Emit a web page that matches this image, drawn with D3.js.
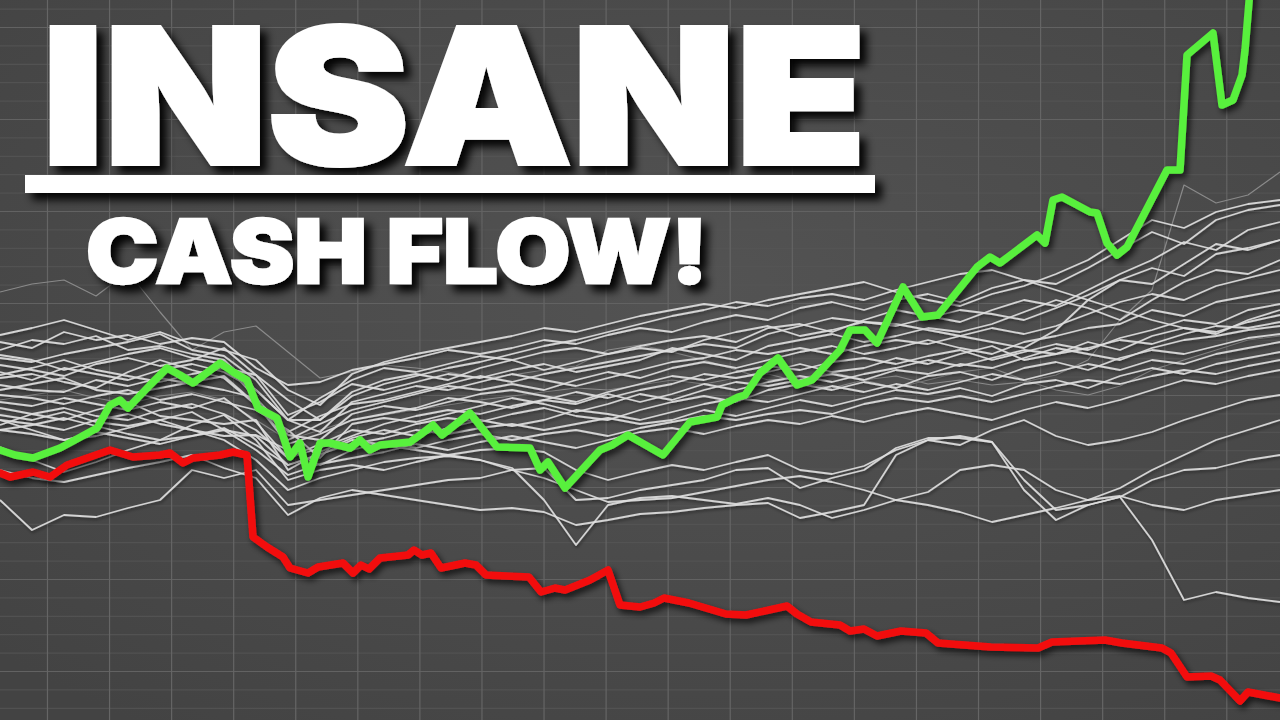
<!DOCTYPE html>
<html>
<head>
<meta charset="utf-8">
<script src="https://cdn.jsdelivr.net/npm/d3@7"></script>
<style>
  html, body { margin: 0; padding: 0; background: #4a4a4a; overflow: hidden; }
  svg { display: block; }
</style>
</head>
<body>
<svg id="chart" width="1280" height="720"></svg>
<script>
// ---------------- DATA ----------------
// Shared x positions (trading-day index, in chart units) for the grey peer lines
const peerDays = [0,32,64,96,128,160,192,224,256,288,320,352,384,416,448,480,512,544,576,608,640,672,704,736,768,800,832,864,896,928,960,992,1024,1056,1088,1120,1152,1184,1216,1248,1280];

// Peer (white) series, value level at each peer day
const peerA = [378,372,388,380,385,376,382,378,352,335,338,350,356,362,370,366,372,380,376,385,392,388,398,405,400,412,418,410,420,426,418,432,440,436,452,470,488,476,500,510,515];
const peerB = [370,380,376,384,370,374,366,360,330,300,322,340,352,348,356,364,360,350,358,366,374,380,384,378,392,396,388,400,410,404,398,410,420,414,430,446,460,478,470,490,498];
const peerC = [362,358,366,372,378,386,370,364,340,300,300,328,340,346,340,352,360,368,372,366,372,368,380,388,394,384,390,398,394,402,410,406,400,412,425,440,452,444,466,472,480];
const peerD = [355,350,344,356,362,354,360,372,345,305,318,336,330,338,346,342,350,356,348,354,360,372,366,360,374,380,386,378,384,392,388,396,408,420,412,400,420,438,450,446,460];
const peerE = [348,340,352,346,340,350,356,348,330,300,288,318,326,334,330,338,346,340,334,342,350,358,362,370,366,372,366,374,380,376,384,392,386,394,406,418,426,420,434,442,450];
const peerF = [342,346,338,332,348,360,350,342,315,280,296,310,318,326,334,330,336,330,340,348,342,352,358,352,360,368,374,366,372,380,372,366,378,384,392,396,410,404,418,424,430];
const peerG = [335,330,328,340,334,342,336,330,322,285,280,306,314,310,318,326,330,324,318,328,336,344,340,348,354,350,358,362,356,364,370,360,368,376,370,382,390,400,396,410,416];
const peerH = [330,336,342,330,326,332,338,344,316,276,286,300,306,312,322,318,312,320,328,322,330,336,346,342,348,356,348,352,362,356,366,374,360,366,378,370,384,392,388,398,405];
const peerI = [325,322,316,324,330,320,326,318,310,290,262,296,302,298,306,314,322,316,308,316,326,320,330,338,334,340,346,340,350,346,356,352,362,372,366,360,372,380,384,390,394];
const peerJ = [318,314,322,316,310,318,312,322,298,262,276,290,286,296,302,298,306,312,304,300,310,318,324,318,330,336,330,338,332,344,348,340,352,358,350,362,370,366,374,382,386];
const peerK = [312,306,300,310,318,304,300,296,300,250,268,282,290,284,292,300,294,300,310,306,300,308,316,322,318,326,334,328,336,330,338,346,340,348,356,350,360,356,366,372,378];
const peerL = [305,300,308,298,294,300,308,290,284,255,266,276,282,290,286,292,296,290,296,302,296,300,310,304,312,320,314,322,330,326,332,324,336,340,332,344,352,346,356,362,368];
const peerM = [300,296,290,300,306,296,290,284,285,270,255,270,278,272,280,286,280,286,290,284,292,298,304,300,306,310,306,316,322,318,324,318,326,334,340,336,344,350,346,354,360];
const peerN = [365,360,350,358,366,372,362,356,322,288,304,316,320,328,336,344,338,346,352,358,364,370,376,372,386,394,402,398,396,390,384,378,372,390,420,440,436,456,476,470,480];
const peerO = [345,352,360,350,344,338,346,352,345,320,300,324,336,344,352,358,366,374,380,388,396,404,410,418,414,422,426,420,430,438,446,450,440,430,420,410,400,392,386,400,410];
const peerP = [290,286,280,288,282,276,284,290,270,245,256,262,268,276,270,278,284,278,272,280,288,292,286,294,300,296,304,298,306,312,306,300,310,318,312,320,330,340,336,344,350];
const peerQ = [385,392,400,390,380,388,376,370,360,330,315,346,358,366,372,378,384,392,388,396,404,410,416,412,420,426,432,438,428,420,414,426,434,446,460,480,500,492,508,516,520];
const peerR = [295,306,312,304,300,310,316,306,290,262,272,284,296,304,310,306,314,320,316,326,318,326,336,330,338,344,338,346,352,360,354,362,370,366,372,380,376,386,394,392,398];
const peerL1 = [220,190,205,203,212,220,250,242,250,215,220,225,230,235,240,242,250,252,220,222,230,235,240,250,252,232,242,250,272,282,282,278,240,210,215,223,240,250,252,260,265];
const peerL2 = [273,260,248,258,270,280,295,305,280,240,250,255,250,258,265,260,250,242,230,218,220,222,228,234,240,244,238,230,220,228,250,255,250,230,220,232,250,265,280,290,300];
const peerL3 = [300,290,280,284,292,300,290,280,260,230,242,250,258,262,264,260,252,220,175,215,222,224,220,216,222,215,202,210,220,215,208,198,205,212,220,224,215,210,220,225,230];
const peerL4 = [250,242,238,245,252,258,265,252,242,205,222,230,225,220,215,210,212,208,195,200,206,208,212,215,217,202,208,215,265,280,284,278,230,200,215,223,180,120,128,122,118];
const peerL5 = [290,295,302,294,286,280,284,292,275,255,265,280,275,270,265,270,272,268,250,240,248,255,250,258,265,250,246,254,270,280,275,290,300,284,275,280,288,300,310,320,325];
// faint grey peers
const faintG1 = [428,436,440,424,448,408,370,388,394,368,342,348,355,352,348,342,345,350,354,370,375,368,360,350,340,342,348,340,332,340,348,352,340,330,325,334,350,360,370,380,384];
const faintG2 = [320,325,330,322,316,324,328,320,300,280,290,300,305,310,315,320,324,328,332,330,335,340,336,342,346,338,332,340,344,336,340,335,338,345,360,400,430,535,517,525,548];

const peerSeries = [peerA,peerB,peerC,peerD,peerE,peerF,peerG,peerH,peerI,peerJ,peerK,peerL,peerM,peerN,peerO,peerP,peerQ,peerR,peerL1,peerL2,peerL3,peerL4,peerL5];
const faintSeries = [faintG1, faintG2];

// Winner (green) series
const greenDays = [0,15,33,60,75,97,110,120,128,150,167,180,193,220,233,247,258,277,290,300,308,320,330,350,360,370,380,410,420,433,442,470,497,530,540,548,565,600,612,628,663,690,717,722,738,745,760,778,797,812,840,850,865,877,903,922,938,977,990,1000,1037,1045,1053,1062,1090,1097,1107,1117,1127,1167,1180,1187,1213,1222,1233,1242,1245,1250];
const greenValues = [270,265,262,272,280,292,315,320,312,335,352,345,337,357,348,340,312,302,263,277,243,277,277,272,280,270,275,278,285,295,285,307,273,272,250,258,232,270,275,285,265,298,303,315,323,325,347,362,335,340,370,390,390,377,433,403,405,453,463,457,485,477,520,523,508,507,477,465,473,550,550,665,687,615,620,645,670,730];

// Loser (red) series
const redDays = [0,10,33,50,67,110,133,160,170,183,193,220,233,247,253,267,283,290,308,318,343,353,361,369,380,408,414,422,431,441,465,476,486,529,541,555,565,590,608,620,640,654,664,689,726,746,787,797,811,840,850,864,877,901,926,938,991,1038,1052,1105,1122,1162,1171,1187,1211,1220,1240,1248,1280];
const redValues = [247,243,248,243,255,270,263,265,267,257,262,265,268,265,183,173,163,152,147,153,157,147,155,151,162,165,170,165,167,152,157,155,145,143,128,132,130,140,150,115,113,117,122,117,106,105,114,106,98,95,89,91,84,89,87,77,73,72,78,80,77,72,67,43,44,40,19,28,22];

// Headline text
const titleText = "INSANE";
const subtitleText = "CASH FLOW!";

// ---------------- DRAWING ----------------
const W = 1280, H = 720;
const svg = d3.select("#chart");
const defs = svg.append("defs");

const bg = defs.append("radialGradient").attr("id", "bg")
  .attr("cx", "55%").attr("cy", "40%").attr("r", "75%");
bg.append("stop").attr("offset", "0%").attr("stop-color", "#535353");
bg.append("stop").attr("offset", "100%").attr("stop-color", "#434343");

function shadow(id, dx, dy, sd, op) {
  const f = defs.append("filter").attr("id", id)
    .attr("x", "-20%").attr("y", "-20%").attr("width", "140%").attr("height", "160%");
  f.append("feDropShadow").attr("dx", dx).attr("dy", dy)
    .attr("stdDeviation", sd).attr("flood-color", "#000").attr("flood-opacity", op);
}
shadow("txtShadow", 7, 7, 4, 0.95);
shadow("lineShadow", 3, 4, 3, 0.7);
shadow("peerShadow", 1, 2, 1.5, 0.45);

svg.append("rect").attr("width", W).attr("height", H).attr("fill", "url(#bg)");

const x = d3.scaleLinear().domain([0, 1280]).range([0, W]);
const y = d3.scaleLinear().domain([0, 720]).range([H, 0]);

// grid (major verticals, major + minor horizontals)
const gridXTicks = d3.range(-15.1, 1281, 62.07);
const gridYMajor = d3.range(49, 720, 92);
const gridYMinor = d3.range(12.2, 720, 18.4);

const gMinor = svg.append("g")
  .call(d3.axisLeft(y).tickValues(gridYMinor).tickSize(-W).tickFormat(""));
gMinor.select(".domain").remove();
gMinor.selectAll("line").attr("stroke", "#555").attr("stroke-width", 1);

const gYMaj = svg.append("g")
  .call(d3.axisLeft(y).tickValues(gridYMajor).tickSize(-W).tickFormat(""));
gYMaj.select(".domain").remove();
gYMaj.selectAll("line").attr("stroke", "#626262").attr("stroke-width", 1.2);

const gXMaj = svg.append("g").attr("transform", `translate(0,${H})`)
  .call(d3.axisBottom(x).tickValues(gridXTicks).tickSize(-H).tickFormat(""));
gXMaj.select(".domain").remove();
gXMaj.selectAll("line").attr("stroke", "#656565").attr("stroke-width", 1.2);

// lines
const line = d3.line().x(d => x(d[0])).y(d => y(d[1])).curve(d3.curveLinear);
const zipped = (xs, vs) => xs.map((d, i) => [d, vs[i]]);

svg.append("g").selectAll("path").data(faintSeries).join("path")
  .attr("d", s => line(zipped(peerDays, s)))
  .attr("fill", "none").attr("stroke", "#8a8a8a").attr("stroke-width", 1.2)
  .attr("stroke-linejoin", "round");

svg.append("g").attr("filter", "url(#peerShadow)")
  .selectAll("path").data(peerSeries).join("path")
  .attr("d", s => line(zipped(peerDays, s)))
  .attr("fill", "none").attr("stroke", "#dedede").attr("stroke-width", 1.8)
  .attr("stroke-linejoin", "round").attr("opacity", 0.92);

svg.append("path").attr("d", line(zipped(redDays, redValues)))
  .attr("fill", "none").attr("stroke", "#f20f0f").attr("stroke-width", 7.5)
  .attr("stroke-linejoin", "round").attr("stroke-linecap", "round")
  .attr("filter", "url(#lineShadow)");

svg.append("path").attr("d", line(zipped(greenDays, greenValues)))
  .attr("fill", "none").attr("stroke", "#58f03c").attr("stroke-width", 7.5)
  .attr("stroke-linejoin", "round").attr("stroke-linecap", "round")
  .attr("filter", "url(#lineShadow)");

// headline
const tg = svg.append("g").attr("filter", "url(#txtShadow)");
const fam = "Inter, Lato, 'Liberation Sans', 'DejaVu Sans', sans-serif";
tg.append("text").text(titleText)
  .attr("x", 42).attr("y", 164)
  .attr("font-family", fam).attr("font-weight", 900).attr("font-size", 188)
  .attr("textLength", 824).attr("lengthAdjust", "spacingAndGlyphs")
  .attr("fill", "#fff").attr("stroke", "#fff").attr("stroke-width", 4)
  .attr("stroke-linejoin", "miter");
tg.append("rect").attr("x", 25).attr("y", 175).attr("width", 850).attr("height", 18).attr("fill", "#fff");
tg.append("text").text(subtitleText)
  .attr("x", 86).attr("y", 283)
  .attr("font-family", fam).attr("font-weight", 900).attr("font-size", 88)
  .attr("textLength", 622).attr("lengthAdjust", "spacingAndGlyphs")
  .attr("fill", "#fff").attr("stroke", "#fff").attr("stroke-width", 2.5)
  .attr("stroke-linejoin", "miter");
</script>
</body>
</html>
